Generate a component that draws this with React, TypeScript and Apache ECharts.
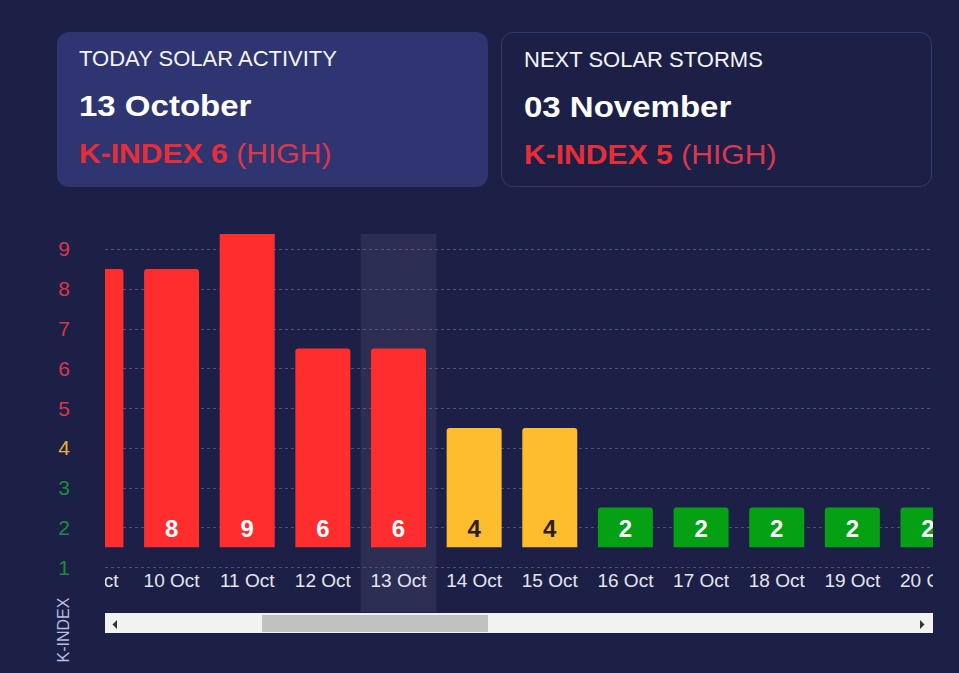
import React, { useEffect, useRef } from "react";
import * as echarts from "echarts";

// ---- data ----
const dates = ["9 Oct", "10 Oct", "11 Oct", "12 Oct", "13 Oct", "14 Oct", "15 Oct", "16 Oct", "17 Oct", "18 Oct", "19 Oct", "20 Oct"];
const kIndex = [8, 8, 9, 6, 6, 4, 4, 2, 2, 2, 2, 2];
const yTicks = [1, 2, 3, 4, 5, 6, 7, 8, 9];
const selectedDate = "13 Oct";

const todayTitle = "TODAY SOLAR ACTIVITY";
const todayDate = "13 October";
const todayK = 6;
const nextTitle = "NEXT SOLAR STORMS";
const nextDate = "03 November";
const nextK = 5;
const levelText = "(HIGH)";

const FONT = '"Liberation Sans", Arial, Helvetica, sans-serif';
const BG = "#1d2046";

function levelColor(k: number) {
  if (k >= 5) return "#ff2d2d";
  if (k === 4) return "#fdbd2c";
  return "#06a015";
}
function tickColor(k: number) {
  if (k >= 5) return "#d8364f";
  if (k === 4) return "#e9b13c";
  return "#1f8c3c";
}
function gridColor(k: number) {
  return k >= 5 ? "#6a4a7c" : "#4d5278";
}

function Card(props: { left: number; filled: boolean; title: string; date: string; k: number }) {
  const { left, filled, title, date, k } = props;
  return (
    <div
      style={{
        position: "absolute",
        left,
        top: 32,
        width: 431,
        height: 155,
        boxSizing: "border-box",
        borderRadius: 12,
        background: filled ? "#2e3570" : "transparent",
        border: filled ? "none" : "1px solid #343a6c",
      }}
    >
      <div style={{ position: "absolute", left: 22, top: 16, fontSize: 22, lineHeight: "22px", color: "#f4f4f8", whiteSpace: "nowrap" }}>{title}</div>
      <div
        style={{
          position: "absolute",
          left: 22,
          top: 59,
          fontSize: 30,
          lineHeight: "30px",
          fontWeight: "bold",
          color: "#ffffff",
          whiteSpace: "nowrap",
          transform: "scaleX(1.1)",
          transformOrigin: "left center",
        }}
      >
        {date}
      </div>
      <div
        style={{
          position: "absolute",
          left: 22,
          top: 107.5,
          fontSize: 28,
          lineHeight: "28px",
          whiteSpace: "nowrap",
          transform: "scaleX(1.075)",
          transformOrigin: "left center",
        }}
      >
        <span style={{ fontWeight: "bold", color: "#e62e39" }}>K-INDEX {k}</span>
        <span style={{ color: "#d9384f" }}> {levelText}</span>
      </div>
    </div>
  );
}

export default function App() {
  const ref = useRef<HTMLDivElement>(null);
  useEffect(() => {
    const chart = echarts.init(ref.current as HTMLDivElement, null, { renderer: "svg" });
    const sel = dates.indexOf(selectedDate);
    chart.setOption({
      animation: false,
      backgroundColor: "transparent",
      textStyle: { fontFamily: FONT },
      grid: { left: 105, right: 26, top: 234, bottom: 61, containLabel: false },
      xAxis: { type: "value", min: 0.12, max: 11.066, show: false },
      yAxis: {
        type: "value",
        min: -0.125,
        max: 9.377,
        axisLine: { show: false },
        axisTick: { show: false },
        splitLine: { show: false },
        axisLabel: {
          customValues: yTicks,
          margin: 35,
          fontSize: 21,
          fontFamily: FONT,
          color: (v: any) => tickColor(Number(v)),
        },
      },
      graphic: [
        { type: "rect", shape: { x: 105, y: 613, width: 828, height: 20 }, style: { fill: "#f2f2f2" }, silent: true },
        { type: "rect", shape: { x: 262, y: 615, width: 226, height: 17 }, style: { fill: "#c1c1c1" }, silent: true },
        { type: "polygon", shape: { points: [[117, 620], [117, 629], [112.5, 624.5]] }, style: { fill: "#333333" }, silent: true },
        { type: "polygon", shape: { points: [[920, 620], [920, 629], [924.5, 624.5]] }, style: { fill: "#333333" }, silent: true },
        {
          type: "text",
          x: 63,
          y: 630,
          rotation: Math.PI / 2,
          style: {
            text: "K-INDEX",
            fill: "#b9bde0",
            fontSize: 16,
            fontFamily: FONT,
            align: "center",
            verticalAlign: "middle",
            textAlign: "center",
            textVerticalAlign: "middle",
          },
          silent: true,
        },
      ],
      series: [
        {
          type: "custom",
          name: "highlight",
          clip: true,
          silent: true,
          data: [[sel, 0]],
          renderItem: (params: any, api: any) => {
            const cs = params.coordSys;
            const i = api.value(0);
            const a = api.coord([i - 0.5, 0]);
            const b = api.coord([i + 0.5, 0]);
            return {
              type: "rect",
              shape: { x: a[0], y: cs.y, width: b[0] - a[0], height: cs.height },
              style: { fill: "rgba(255,255,255,0.07)" },
            };
          },
        },
        {
          type: "custom",
          name: "gridlines",
          silent: true,
          data: yTicks.map((v) => [1, v]),
          renderItem: (params: any, api: any) => {
            const cs = params.coordSys;
            const v = api.value(1);
            const y = Math.round(api.coord([1, v])[1]) + 0.5;
            return {
              type: "line",
              shape: { x1: cs.x, y1: y, x2: cs.x + cs.width, y2: y },
              style: { stroke: gridColor(v), lineWidth: 1, lineDash: [3, 3] },
            };
          },
        },
        {
          type: "custom",
          name: "K-index",
          clip: true,
          data: kIndex.map((k, i) => [i, k]),
          renderItem: (params: any, api: any) => {
            const cs = params.coordSys;
            const i = api.value(0);
            const k = api.value(1);
            const top = api.coord([i, k + 0.5]);
            const base = api.coord([i, 1.5]);
            const w = 55;
            return {
              type: "group",
              children: [
                {
                  type: "rect",
                  shape: { x: top[0] - w / 2, y: top[1], width: w, height: base[1] - top[1], r: [3, 3, 0, 0] },
                  style: { fill: levelColor(k) },
                },
                {
                  type: "text",
                  x: top[0],
                  y: base[1] - 19,
                  style: {
                    text: String(k),
                    fill: k === 4 ? "#2b1f22" : "#ffffff",
                    fontSize: 24,
                    fontWeight: "bold",
                    fontFamily: FONT,
                    align: "center",
                    verticalAlign: "middle",
                    textAlign: "center",
                    textVerticalAlign: "middle",
                  },
                },
                {
                  type: "text",
                  x: top[0],
                  y: cs.y + cs.height - 32,
                  style: {
                    text: dates[i],
                    fill: "#e4e6f2",
                    fontSize: 19,
                    fontFamily: FONT,
                    align: "center",
                    verticalAlign: "middle",
                    textAlign: "center",
                    textVerticalAlign: "middle",
                  },
                },
              ],
            };
          },
        },
      ],
    });
    return () => chart.dispose();
  }, []);

  return (
    <div style={{ position: "fixed", left: 0, top: 0, width: 959, height: 673, background: BG, overflow: "hidden", fontFamily: FONT }}>
      <div ref={ref} style={{ position: "absolute", left: 0, top: 0, width: 959, height: 673 }} />
      <Card left={57} filled={true} title={todayTitle} date={todayDate} k={todayK} />
      <Card left={501} filled={false} title={nextTitle} date={nextDate} k={nextK} />
    </div>
  );
}
